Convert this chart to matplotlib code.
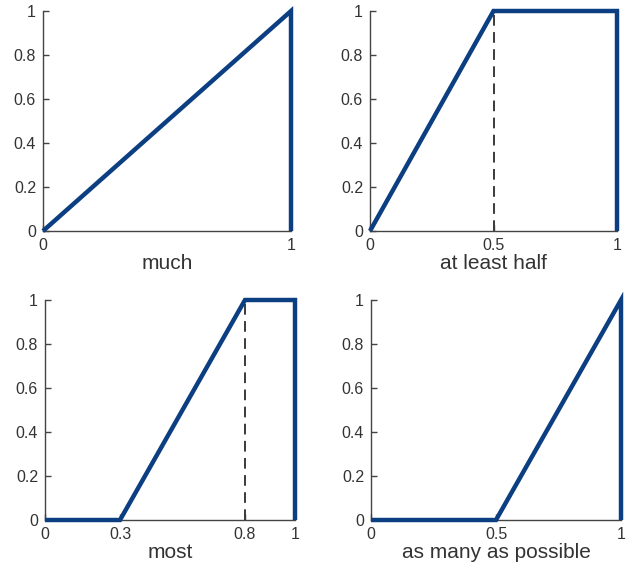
import matplotlib
matplotlib.use("Agg")
import matplotlib.pyplot as plt

plt.rcParams['font.family'] = ['Liberation Sans', 'DejaVu Sans']

# Data: piecewise-linear membership functions
much_x = [0, 1, 1]
much_y = [0, 1, 0]
half_x = [0, 0.5, 1, 1]
half_y = [0, 1, 1, 0]
most_x = [0, 0.3, 0.8, 1, 1]
most_y = [0, 0, 1, 1, 0]
many_x = [0, 0.5, 1, 1]
many_y = [0, 0, 1, 0]

labels = ["much", "at least half", "most", "as many as possible"]
xticks_list = [[0, 1], [0, 0.5, 1], [0, 0.3, 0.8, 1], [0, 0.5, 1]]
xticklabels_list = [["0", "1"], ["0", "0.5", "1"], ["0", "0.3", "0.8", "1"], ["0", "0.5", "1"]]
yticks = [0, 0.2, 0.4, 0.6, 0.8, 1]
yticklabels = ["0", "0.2", "0.4", "0.6", "0.8", "1"]
dashed_x = [None, 0.5, 0.8, None]

series = [(much_x, much_y), (half_x, half_y), (most_x, most_y), (many_x, many_y)]

W, H = 630, 568
fig = plt.figure(figsize=(W / 100, H / 100), dpi=100)
boxes = [(43, 11, 291, 231), (370, 11, 617, 231), (45, 300, 295, 520), (371, 300, 621, 520)]

blue = '#0b3f82'
for i, (x0, y0, x1, y1) in enumerate(boxes):
    ax = fig.add_axes([x0 / W, 1 - y1 / H, (x1 - x0) / W, (y1 - y0) / H])
    xs, ys = series[i]
    if dashed_x[i] is not None:
        ax.plot([dashed_x[i], dashed_x[i]], [0, 1], color='#3a3a3a', lw=1.4,
                dashes=(5.5, 3.3), zorder=2)
    ax.plot(xs, ys, color=blue, lw=3.2, clip_on=False, zorder=3,
            solid_joinstyle='miter', solid_capstyle='butt')
    ax.set_xlim(0, 1)
    ax.set_ylim(0, 1)
    ax.set_xticks(xticks_list[i])
    ax.set_xticklabels(xticklabels_list[i])
    ax.set_yticks(yticks)
    ax.set_yticklabels(yticklabels)
    for s in ['top', 'right']:
        ax.spines[s].set_visible(False)
    for s in ['left', 'bottom']:
        ax.spines[s].set_color('#444444')
        ax.spines[s].set_linewidth(1.0)
    ax.tick_params(direction='in', length=4, width=1.0, color='#444444',
                   labelsize=11.5, labelcolor='#333333')
    ax.tick_params(axis='y', pad=5)
    ax.tick_params(axis='x', pad=5)
    ax.set_xlabel(labels[i], fontsize=15, color='#333333', labelpad=1)

fig.savefig("out.png", dpi=100)
